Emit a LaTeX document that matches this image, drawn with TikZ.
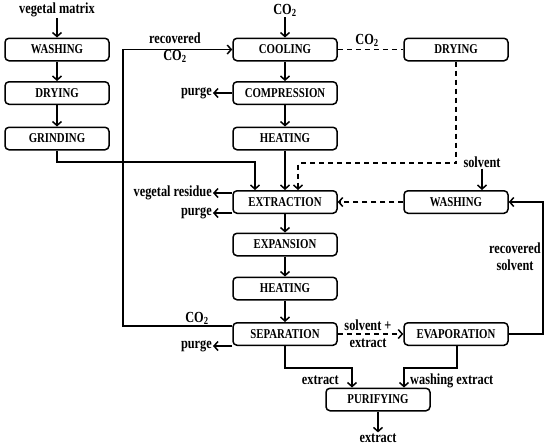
\documentclass[tikz,border=0pt]{standalone}
\usepackage{fontspec}
\setmainfont[FakeStretch=0.8]{Liberation Serif}
\usetikzlibrary{arrows.meta}
\newcommand{\boxfnt}{\fontsize{13.5}{15}\selectfont\bfseries}
\newcommand{\lblfnt}{\fontsize{15.4}{17}\selectfont\bfseries}
\begin{document}
\begin{tikzpicture}[x=1pt,y=-1pt,
  procbox/.style={draw, rounded corners=4pt, minimum width=104pt, minimum height=22.5pt, line width=1.5pt, font=\boxfnt, inner sep=0pt},
  lbl/.style={font=\lblfnt, inner sep=1pt, align=center},
  flow/.style={line width=1.5pt, -{Straight Barb[length=4pt,width=9pt,line width=1.5pt]}},
  plain/.style={line width=1.5pt},
  dflow/.style={flow, dash pattern=on 5pt off 4pt},
  dplain/.style={plain, dash pattern=on 5pt off 4pt}]
\useasboundingbox (0,0) rectangle (550,448);
% left column
\node[procbox] (lw) at (57,49.5) {WASHING};
\node[procbox] (ld) at (57,93) {DRYING};
\node[procbox] (lg) at (57,138.5) {GRINDING};
% middle column
\node[procbox] (cool) at (285,49.5) {COOLING};
\node[procbox] (comp) at (285,93) {COMPRESSION};
\node[procbox] (heatA) at (285,138.5) {HEATING};
\node[procbox] (ext) at (285,202) {EXTRACTION};
\node[procbox] (expn) at (285,244.5) {EXPANSION};
\node[procbox] (heatB) at (285,288.5) {HEATING};
\node[procbox] (sep) at (285,334) {SEPARATION};
% right column
\node[procbox] (rdry) at (456,49.5) {DRYING};
\node[procbox] (rwash) at (456,202) {WASHING};
\node[procbox] (evap) at (456,334) {EVAPORATION};
\node[procbox] (pur) at (378,399.5) {PURIFYING};
% labels
\node[lbl] (vm) at (57,10) {vegetal matrix};
\node[lbl] (co2top) at (285,10) {CO\textsubscript{2}};
\node[lbl] (recco2) at (175,48) {recovered\\CO\textsubscript{2}};
\node[lbl] (co2mid) at (367,40) {CO\textsubscript{2}};
\node[lbl, anchor=east] (purgeA) at (213,93) {purge};
\node[lbl, anchor=east] (vres) at (213,193) {vegetal residue};
\node[lbl, anchor=east] (purgeB) at (213,213) {purge};
\node[lbl, anchor=east] (purgeC) at (213,346) {purge};
\node[lbl] (co2sep) at (197,318) {CO\textsubscript{2}};
\node[lbl] (solv) at (482,162) {solvent};
\node[lbl] (recsolv) at (515,257) {recovered\\solvent};
\node[lbl] (solvplus) at (368,325) {solvent +};
\node[lbl] (solvext) at (368,343) {extract};
\node[lbl, anchor=east] (extA) at (340,380) {extract};
\node[lbl, anchor=west] (wext) at (409,381) {washing extract};
\node[lbl] (extB) at (378,438) {extract};
% coordinates
\coordinate (g1) at (57,162);
\coordinate (g2) at (255,162);
\coordinate (d1) at (456,163);
\coordinate (d2) at (298,163);
\coordinate (r1) at (123,326);
\coordinate (r2) at (123,49.5);
\coordinate (s1) at (543,334);
\coordinate (s2) at (543,202);
\coordinate (e1) at (285,368);
\coordinate (e2) at (352,368);
\coordinate (v1) at (457,368);
\coordinate (v2) at (404,368);
% connectors left column
\draw[flow] (vm) -- (lw);
\draw[flow] (lw) -- (ld);
\draw[flow] (ld) -- (lg);
\draw[flow] (lg.south) -- (g1) -- (g2) -- (g2 |- ext.north);
% middle column
\draw[flow] (co2top) -- (cool);
\draw[flow] (cool) -- (comp);
\draw[flow] (comp) -- (heatA);
\draw[flow] (heatA) -- (ext);
\draw[flow] (ext) -- (expn);
\draw[flow] (expn) -- (heatB);
\draw[flow] (heatB) -- (sep);
\draw[flow] (comp.west) -- (purgeA);
\draw[flow] (ext.west |- vres) -- (vres);
\draw[flow] (ext.west |- purgeB) -- (purgeB);
\draw[flow] (sep.west |- purgeC) -- (purgeC);
% recycle CO2
\draw[flow] (sep.west |- r1) -- (r1) -- (r2) -- (cool.west);
% dashed CO2 to drying
\draw[dplain] (cool.east) -- (rdry.west);
\draw[dflow] (rdry.south) -- (d1) -- (d2) -- (d2 |- ext.north);
% solvent
\draw[flow] (solv) -- (solv |- rwash.north);
\draw[dflow] (rwash.west) -- (ext.east);
\draw[flow] (evap.east) -- (s1) -- (s2) -- (rwash.east);
% separation to evaporation
\draw[dflow] (sep.east) -- (evap.west);
% to purifying
\draw[flow] (sep.south) -- (e1) -- (e2) -- (e2 |- pur.north);
\draw[flow] (evap.south -| v1) -- (v1) -- (v2) -- (v2 |- pur.north);
\draw[flow] (pur.south) -- (extB);
\end{tikzpicture}
\end{document}
